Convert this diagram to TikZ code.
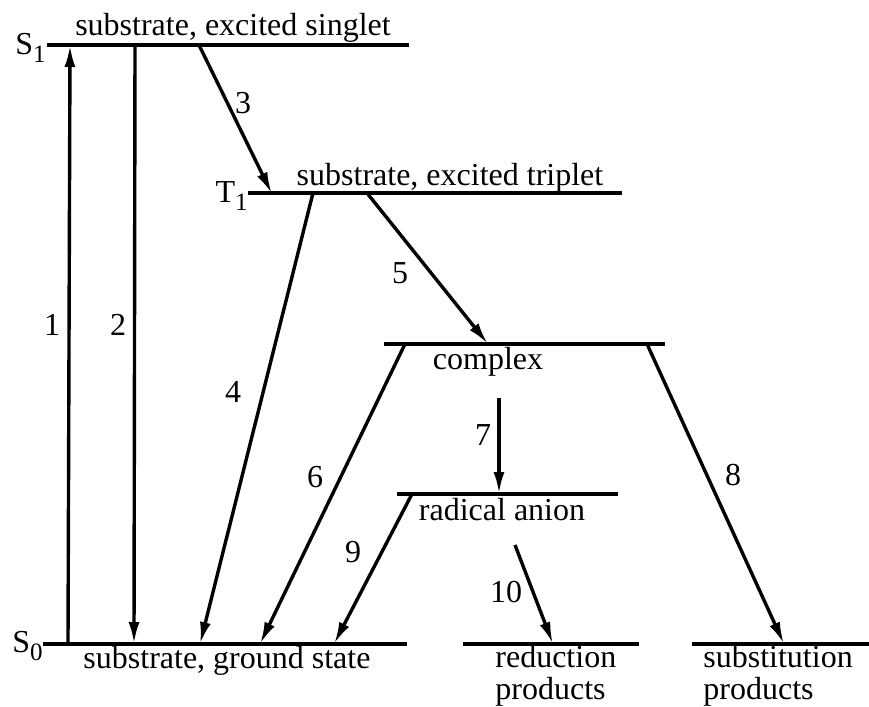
\documentclass[tikz,border=0pt]{standalone}
\usepackage{fontspec}
\setmainfont{Liberation Serif}
\usepackage{tikz}
\usetikzlibrary{positioning,arrows.meta,calc}
\definecolor{ink}{HTML}{000000}
\newcommand{\lvsub}[1]{\raisebox{-0.5ex}{\fontsize{12.5}{12.5}\selectfont #1}}
\tikzset{
  every node/.style={font=\fontsize{16}{14}\selectfont, text=ink},
  % --- levels
  lvl/.style   = {draw=ink, line width=2pt},
  lvlname/.style = {inner sep=0pt, align=center},
  lvltag/.style  = {inner sep=0pt, anchor=east},
  prod/.style  = {inner sep=0pt, anchor=base west},
  % --- transitions
  tr/.style    = {draw=ink, line width=1.7pt, -{Latex[length=11pt,width=5.5pt]}},
  num/.style   = {inner sep=0pt},
}
\begin{document}
\begin{tikzpicture}[x=0.5pt,y=-0.5pt]
  \useasboundingbox (0,0) rectangle (869,707);

  % level ends
  \coordinate (s1l) at (47,45);   \coordinate (s1r) at (409,45);
  \coordinate (t1l) at (248,193); \coordinate (t1r) at (622,193);
  \coordinate (cxl) at (384,344); \coordinate (cxr) at (665,344);
  \coordinate (ral) at (397,494); \coordinate (rar) at (618,494);
  \coordinate (s0l) at (43,644);  \coordinate (s0r) at (407,644);
  \coordinate (rdl) at (463,644); \coordinate (rdr) at (639,644);
  \coordinate (sbl) at (692,644); \coordinate (sbr) at (869,644);

  % levels
  \draw[lvl] (s1l) -- (s1r);
  \draw[lvl] (t1l) -- (t1r);
  \draw[lvl] (cxl) -- (cxr);
  \draw[lvl] (ral) -- (rar);
  \draw[lvl] (s0l) -- (s0r);
  \draw[lvl] (rdl) -- (rdr);
  \draw[lvl] (sbl) -- (sbr);

  \node[lvltag] (s1tag) at (46,48)  {S\lvsub{1}};
  \node[lvltag] (t1tag) at (248,196) {T\lvsub{1}};
  \node[lvltag] (s0tag) at (43,646) {S\lvsub{0}};

  \node[lvlname] (s1name) at (233,28)  {substrate, excited singlet};
  \node[lvlname] (t1name) at (450,178) {substrate, excited triplet};
  \node[lvlname] (cxname) at (488,362) {complex};
  \node[lvlname] (raname) at (502,510) {radical anion};
  \node[lvlname] (s0name) at (227,661) {substrate, ground state};
  \node[prod] (rdname) at (495,667) {reduction};
  \node[prod] (rdname2) at (495,699) {products};
  \node[prod] (sbname) at (703,667) {substitution};
  \node[prod] (sbname2) at (703,699) {products};

  % transition ends
  \coordinate (a1) at (68,644);  \coordinate (b1) at (70,45);
  \coordinate (a2) at (135,45);  \coordinate (b2) at (134,644);
  \coordinate (a3) at (199,45);  \coordinate (b3) at (272,194);
  \coordinate (a4) at (313,193); \coordinate (b4) at (200,644);
  \coordinate (a5) at (367,193); \coordinate (b5) at (488,344);
  \coordinate (a6) at (405,344); \coordinate (b6) at (260,644);
  \coordinate (a7) at (499,398); \coordinate (b7) at (499,494);
  \coordinate (a8) at (647,344); \coordinate (b8) at (784,644);
  \coordinate (a9) at (412,494); \coordinate (b9) at (334,644);
  \coordinate (a10) at (515,545); \coordinate (b10) at (553,644);

  % transitions
  \foreach \i in {1,...,10}
    \draw[tr] (a\i) -- (b\i);

  \node[num] (n1) at (52,325)  {1};
  \node[num] (n2) at (118,325) {2};
  \node[num] (n3) at (243,103) {3};
  \node[num] (n4) at (233,392) {4};
  \node[num] (n5) at (400,273) {5};
  \node[num] (n6) at (315,477) {6};
  \node[num] (n7) at (483,435) {7};
  \node[num] (n8) at (733,475) {8};
  \node[num] (n9) at (353,552) {9};
  \node[num] (n10) at (506,592) {10};
\end{tikzpicture}
\end{document}
